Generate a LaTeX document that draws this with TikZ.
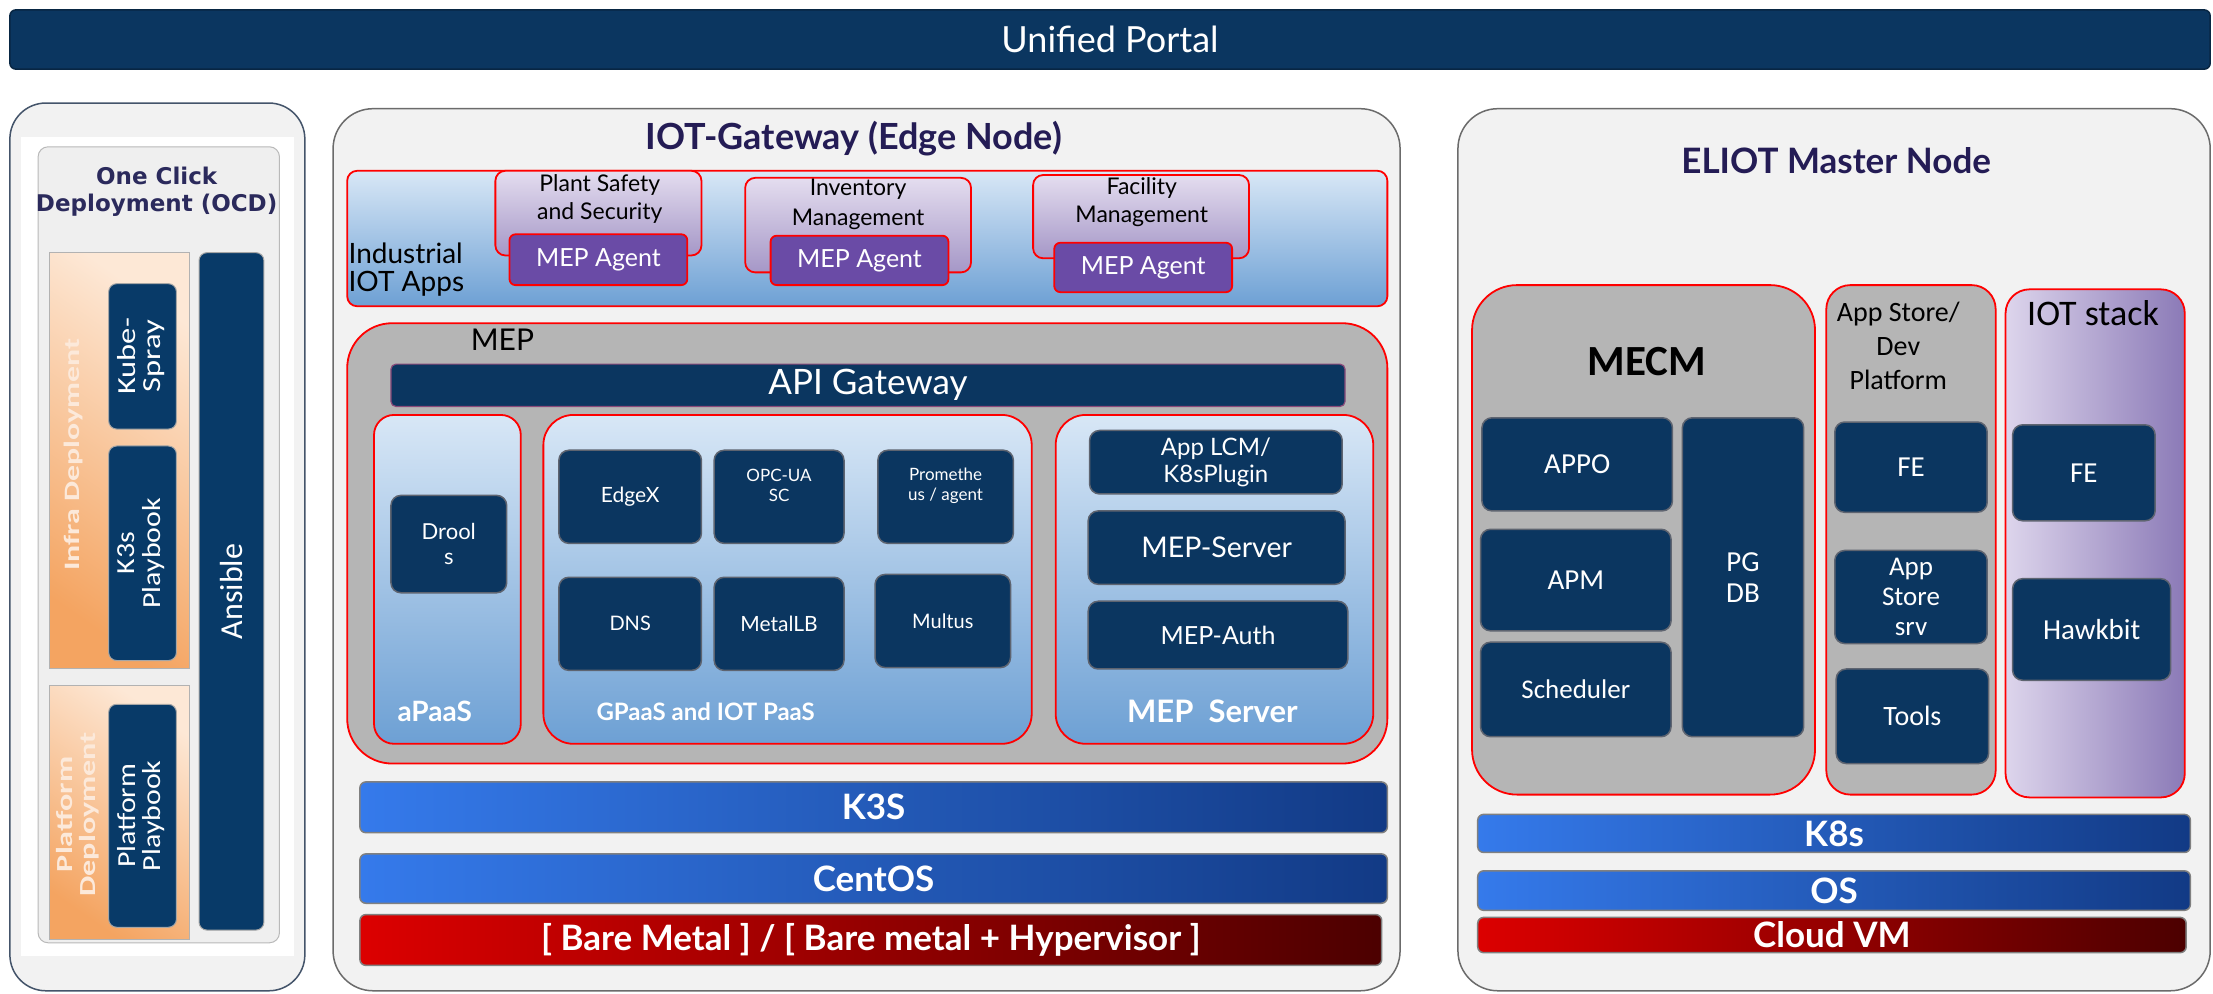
\documentclass[tikz,border=0pt]{standalone}
\usepackage{graphicx}
\usepackage{fontspec}
\setmainfont{Lato}
\newfontfamily\carl{Carlito}
\newfontfamily\dvs{DejaVu Sans}
\usetikzlibrary{fit}
\newcommand\fz[2]{\fontsize{#1}{#2}\selectfont}
\newcommand\sx[2]{\scalebox{#1}[1]{\begin{tabular}{@{}c@{}}#2\end{tabular}}}
\definecolor{navy}{HTML}{0B3660}
\definecolor{dboxbd}{HTML}{5E6470}
\definecolor{panelbg}{HTML}{F2F2F2}
\definecolor{panelbd}{HTML}{6B6B6B}
\definecolor{leftbd}{HTML}{44546A}
\definecolor{titlec}{HTML}{241C55}
\definecolor{mepgray}{HTML}{B5B5B5}
\definecolor{redb}{HTML}{FF0000}
\definecolor{bluetop}{HTML}{D8E7F6}
\definecolor{bluebot}{HTML}{6DA0D4}
\definecolor{lavtop}{HTML}{E4DDEF}
\definecolor{lavbot}{HTML}{A597C7}
\definecolor{agent}{HTML}{6A4BA6}
\definecolor{barL}{HTML}{357AEB}
\definecolor{barR}{HTML}{123A85}
\definecolor{redL}{HTML}{DC0000}
\definecolor{redR}{HTML}{4C0000}
\definecolor{iotL}{HTML}{DDD5EC}
\definecolor{iotR}{HTML}{8B7AB7}
\definecolor{orL}{HTML}{F4A461}
\definecolor{orR}{HTML}{FDE8D6}
\definecolor{ocdbg}{HTML}{EFEFEF}
\definecolor{apibd}{HTML}{8A4A7A}
\definecolor{ocdtitle}{HTML}{2B2A5C}
\definecolor{ocdnavy}{HTML}{083A68}
\definecolor{paletext}{HTML}{FCE9DA}
\tikzset{
 every node/.style={inner sep=0pt, outer sep=0pt},
 panel/.style={draw=panelbd, line width=1.5pt, fill=panelbg, rounded corners=40pt},
 dbox/.style={fill=navy, draw=dboxbd, line width=1.5pt, rounded corners=10pt},
 obox/.style={fill=ocdnavy, draw=gray!70, line width=1pt, rounded corners=8pt},
 wt/.style={text=white},
 redc/.style={draw=redb, line width=1.8pt},
 bluegrad/.style={redc, top color=bluetop, bottom color=bluebot},
 lavbox/.style={redc, top color=lavtop, bottom color=lavbot, rounded corners=10pt},
 agentbox/.style={redc, fill=agent, rounded corners=6pt},
 agenttext/.style={wt, font=\fz{25}{28}},
 bluebar/.style={left color=barL, right color=barR, draw=gray, line width=1.5pt, rounded corners=6pt},
 redbar/.style={left color=redL, right color=redR, draw=gray, line width=1.5pt, rounded corners=6pt},
 bartext/.style={wt, font=\bfseries\fz{35}{38}},
 orbox/.style={top color=orR, bottom color=orL, shading angle=-35, draw=gray!60, line width=1pt},
 grayc/.style={redc, fill=mepgray},
}
% box with centred text: style, name, fit points, text style, text
\newcommand\tb[5]{\node[#1, fit={#3}] (#2) {};
  \node[align=center, #4] (#2t) at (#2.center) {#5};}
\begin{document}
\begin{tikzpicture}[x=1.41135pt, y=-1.41135pt]
\useasboundingbox (0,0) rectangle (1568,704);
\fill[white] (0,0) rectangle (1568,704);

% Unified portal
\tb{fill=navy, draw=navy!70!black, line width=1.5pt, rounded corners=6pt}{portal}{(7,7) (1566,49)}{wt, font=\fz{36}{40}}{Unified Portal}

% ---------------- Left panel
\node[panel, draw=leftbd, rounded corners=36pt, fit={(7,73) (216,702)}] (left) {};
\node[fill=white, fit={(15,97) (208,677)}] (ocdimg) {};
\node[fill=ocdbg, draw=gray!55, line width=1pt, rounded corners=10pt, fit={(27,104) (198,668)}] (ocd) {};
\node[text=ocdtitle, align=center, font=\dvs\bfseries\fz{23}{27}] (ocdt) at (111,136) {One Click\\Deployment (OCD)};
\node[orbox, fit={(35,179) (134,474)}] (infra) {};
\node[rotate=90, text=paletext, font=\carl\bfseries\fz{22}{24}] (infrat) at (53,322) {\sx{1.45}{Infra Deployment}};
\tb{obox}{kube}{(77,201) (125,304)}{rotate=90, wt, font=\carl\fz{26}{24}}{\sx{1.25}{Kube-\\Spray}}
\tb{obox}{k3sp}{(77,316) (125,468)}{rotate=90, wt, font=\carl\fz{26}{24}}{\sx{1.15}{K3s\\Playbook}}
\node[orbox, fit={(35,486) (134,666)}] (plat) {};
\node[rotate=90, text=paletext, font=\carl\bfseries\fz{23}{21}] (platt) at (56,577) {\sx{1.4}{Platform\\Deployment}};
\tb{obox}{platp}{(77,499) (125,657)}{rotate=90, wt, font=\carl\fz{26}{24}}{\sx{1.15}{Platform\\Playbook}}
\tb{obox}{ans}{(141,179) (187,659)}{rotate=90, wt, font=\carl\fz{32}{32}}{Ansible}

% ---------------- Middle panel
\node[panel, fit={(236,77) (992,702)}] (mid) {};
\node[text=titlec, font=\bfseries\fz{36}{40}] (midt) at (605,98) {IOT-Gateway (Edge Node)};
\node[bluegrad, rounded corners=10pt, fit={(246,121) (983,217)}] (iiot) {};
\node[anchor=west, align=left, font=\fz{28}{28}] (iiott) at (247,191) {Industrial\\IOT Apps};
\node[lavbox, fit={(351,121) (497,181)}] (plant) {};
\node[align=center, font=\fz{23}{28}] (plantt) at (425,141) {Plant Safety\\and Security};
\tb{agentbox}{ag1}{(361,166) (487,202)}{agenttext}{MEP Agent}
\node[lavbox, fit={(528,126) (688,193)}] (inv) {};
\node[align=center, font=\fz{23}{30}] (invt) at (608,145) {Inventory\\Management};
\tb{agentbox}{ag2}{(546,167) (672,202)}{agenttext}{MEP Agent}
\node[lavbox, fit={(732,124) (885,183)}] (fac) {};
\node[align=center, font=\fz{23}{28}] (fact) at (809,143) {Facility\\Management};
\tb{agentbox}{ag3}{(747,172) (873,207)}{agenttext}{MEP Agent}

\node[grayc, rounded corners=45pt, fit={(246,229) (983,541)}] (mep) {};
\node[font=\fz{30}{32}] (mept) at (356,241) {MEP};
\tb{fill=navy, draw=apibd, line width=1.2pt, rounded corners=5pt}{api}{(277,258) (953,288)}{wt, font=\fz{35}{38}}{API Gateway}

\node[bluegrad, rounded corners=20pt, fit={(265,294) (369,527)}] (apaas) {};
\node[wt, font=\bfseries\fz{28}{30}] (apaast) at (308,504) {aPaaS};
\tb{dbox}{drools}{(277,351) (359,420)}{wt, font=\fz{22}{25}}{Drool\\s}

\node[bluegrad, rounded corners=30pt, fit={(385,294) (731,527)}] (gpaas) {};
\node[wt, font=\bfseries\fz{24}{28}] (gpaast) at (500,504) {GPaaS and IOT PaaS};
\tb{dbox}{edgex}{(396,319) (497,385)}{wt, font=\fz{21}{24}}{EdgeX}
\node[dbox, fit={(506,319) (598,385)}] (opc) {};
\node[wt, align=center, font=\fz{17}{20}] (opct) at (552,344) {OPC-UA\\SC};
\node[dbox, fit={(622,319) (718,385)}] (prom) {};
\node[wt, align=center, font=\fz{17}{20}] (promt) at (670,344) {Promethe\\us / agent};
\tb{dbox}{dns}{(396,409) (497,475)}{wt, font=\fz{20}{24}}{DNS}
\tb{dbox}{metallb}{(506,409) (598,475)}{wt, font=\fz{21}{24}}{MetalLB}
\tb{dbox}{multus}{(620,407) (716,473)}{wt, font=\fz{20}{24}}{Multus}

\node[bluegrad, rounded corners=30pt, fit={(748,294) (973,527)}] (meps) {};
\node[wt, font=\bfseries\fz{31}{34}] (mepst) at (859,504) {MEP\ \ Server};
\tb{dbox}{applcm}{(772,305) (951,350)}{wt, font=\fz{24}{27}}{App LCM/\\K8sPlugin}
\tb{dbox}{mepserver}{(771,362) (953,414)}{wt, font=\fz{28.5}{30}}{MEP-Server}
\tb{dbox}{mepauth}{(771,426) (955,474)}{wt, font=\fz{25}{28}}{MEP-Auth}

\tb{bluebar}{k3s}{(255,554) (983,590)}{bartext}{K3S}
\tb{bluebar}{centos}{(255,605) (983,640)}{bartext}{CentOS}
\tb{redbar}{bare}{(255,648) (979,684)}{bartext}{[ Bare Metal ] / [ Bare metal + Hypervisor ]}

% ---------------- Right panel
\node[panel, fit={(1033,77) (1566,702)}] (right) {};
\node[text=titlec, font=\bfseries\fz{35}{40}] (rightt) at (1301,114) {ELIOT Master Node};
\node[grayc, rounded corners=45pt, fit={(1043,202) (1286,563)}] (mecm) {};
\node[font=\carl\bfseries\fz{43}{46}] (mecmt) at (1167,256) {MECM};
\tb{dbox}{appo}{(1050,296) (1185,362)}{wt, font=\carl\fz{29}{32}}{APPO}
\tb{dbox}{apm}{(1049,375) (1184,447)}{wt, font=\carl\fz{29}{32}}{APM}
\tb{dbox}{sched}{(1049,455) (1184,522)}{wt, font=\carl\fz{27}{30}}{Scheduler}
\tb{dbox}{pgdb}{(1192,296) (1278,522)}{wt, font=\carl\fz{29}{31}}{PG\\DB}

\node[grayc, rounded corners=24pt, fit={(1294,202) (1414,563)}] (store) {};
\node[align=center, font=\carl\fz{28}{34}] (storet) at (1345,245) {App Store/\\Dev\\Platform};
\tb{dbox}{fe1}{(1300,299) (1408,363)}{wt, font=\carl\fz{29}{32}}{FE}
\tb{dbox}{storesrv}{(1300,390) (1408,456)}{wt, font=\carl\fz{27}{30}}{App\\Store\\srv}
\tb{dbox}{tools}{(1301,474) (1409,541)}{wt, font=\carl\fz{28}{32}}{Tools}

\node[redc, left color=iotL, right color=iotR, rounded corners=24pt, fit={(1421,205) (1548,565)}] (iot) {};
\node[font=\carl\fz{36}{38}] (iott) at (1483,222) {IOT stack};
\tb{dbox}{fe2}{(1426,301) (1527,369)}{wt, font=\carl\fz{29}{32}}{FE}
\tb{dbox}{hawk}{(1426,410) (1538,482)}{wt, font=\carl\fz{29}{32}}{Hawkbit}

\tb{bluebar}{k8s}{(1047,577) (1552,604)}{bartext}{K8s}
\tb{bluebar}{os}{(1047,617) (1552,645)}{bartext}{OS}
\tb{redbar}{cloud}{(1047,650) (1549,675)}{bartext}{Cloud VM}
\end{tikzpicture}
\end{document}
